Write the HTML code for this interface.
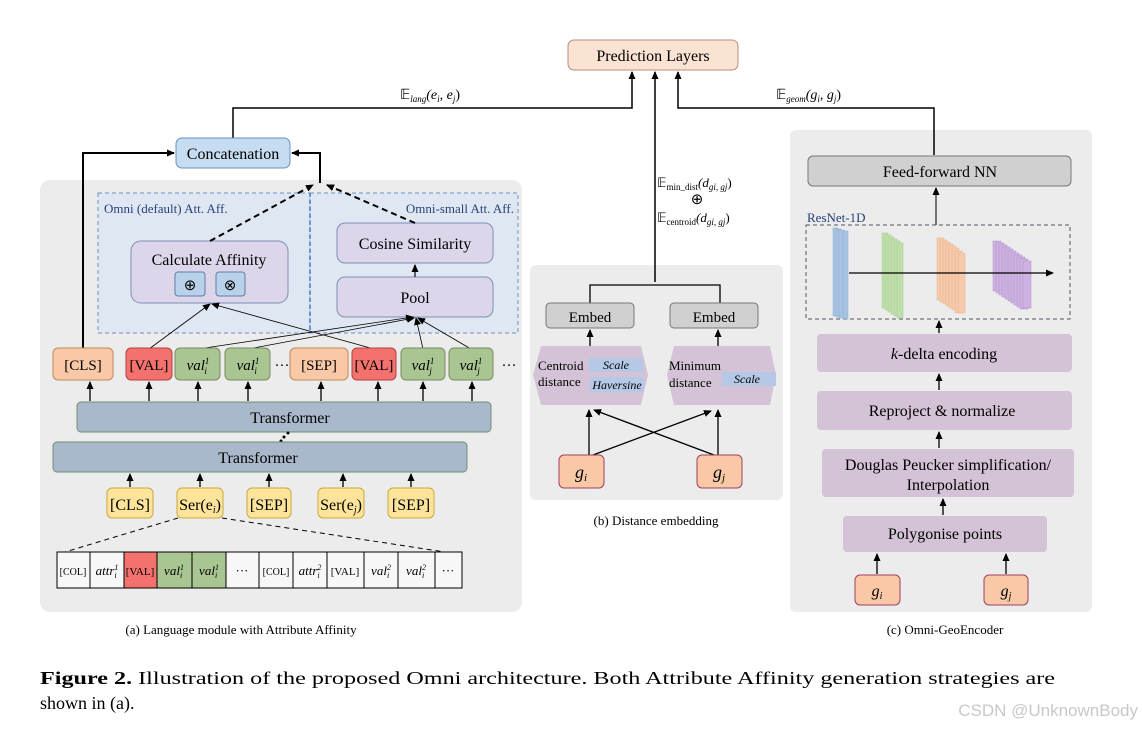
<!DOCTYPE html>
<html><head><meta charset="utf-8"><style>
body{margin:0;background:#fff}
svg{display:block;font-family:"Liberation Serif",serif}
.i{font-style:italic}
</style></head><body>
<svg width="1142" height="729" viewBox="0 0 1142 729" xmlns="http://www.w3.org/2000/svg">
<defs>
<marker id="ar" markerWidth="8" markerHeight="8" refX="7" refY="4" orient="auto" markerUnits="userSpaceOnUse"><path d="M0,0.5 L8,4 L0,7.5z" fill="#000"/></marker>
</defs>
<rect x="40" y="180" width="482" height="432" rx="10" fill="#ececec"/>
<rect x="530" y="265" width="253" height="235" rx="6" fill="#ececec"/>
<rect x="790" y="130" width="302" height="482" rx="6" fill="#ececec"/>

<rect x="568" y="40" width="170" height="30" rx="6" fill="#fbe3d3" stroke="#b98d7a"/>
<text x="653" y="61" font-size="16" text-anchor="middle">Prediction Layers</text>
<path d="M233,138 V108 H632 V72" fill="none" stroke="#000" stroke-width="1.5" marker-end="url(#ar)"/>
<path d="M934,155 V108 H678 V72" fill="none" stroke="#000" stroke-width="1.5" marker-end="url(#ar)"/>
<path d="M655,282 V72" fill="none" stroke="#000" stroke-width="1.5" marker-end="url(#ar)"/>
<text x="400" y="99" font-size="14">𝔼<tspan class="i" font-size="9" dy="3">lang</tspan><tspan dy="-3" class="i">(e</tspan><tspan class="i" font-size="9" dy="3">i</tspan><tspan dy="-3" class="i">, e</tspan><tspan class="i" font-size="9" dy="3">j</tspan><tspan dy="-3">)</tspan></text>
<text x="776" y="99" font-size="14">𝔼<tspan class="i" font-size="9" dy="3">geom</tspan><tspan dy="-3" class="i">(g</tspan><tspan class="i" font-size="9" dy="3">i</tspan><tspan dy="-3" class="i">, g</tspan><tspan class="i" font-size="9" dy="3">j</tspan><tspan dy="-3">)</tspan></text>
<text x="657" y="187" font-size="13">𝔼<tspan font-size="9" dy="3">min_dist</tspan><tspan dy="-3" class="i">(d</tspan><tspan class="i" font-size="9" dy="3">gi, gj</tspan><tspan dy="-3">)</tspan></text>
<text x="697" y="204" font-size="15" text-anchor="middle">⊕</text>
<text x="657" y="222" font-size="13">𝔼<tspan font-size="9" dy="3">centroid</tspan><tspan dy="-3" class="i">(d</tspan><tspan class="i" font-size="9" dy="3">gi, gj</tspan><tspan dy="-3">)</tspan></text>

<rect x="176" y="138" width="114" height="30" rx="6" fill="#c6dcf0" stroke="#6a8fbf"/>
<text x="233" y="159" font-size="16" text-anchor="middle">Concatenation</text>
<path d="M83,348 V153 H174" fill="none" stroke="#000" stroke-width="2" marker-end="url(#ar)"/>
<path d="M320,183 V153 H292" fill="none" stroke="#000" stroke-width="2" marker-end="url(#ar)"/>

<rect x="98" y="193" width="212" height="140" fill="#dfe8f2" stroke="#6b8fbf" stroke-dasharray="4,3"/>
<rect x="310" y="193" width="208" height="140" fill="#dfe8f2" stroke="#6b8fbf" stroke-dasharray="4,3"/>
<line x1="310" y1="193" x2="310" y2="333" stroke="#4a78c0" stroke-width="1.5" stroke-dasharray="4,3"/>
<text x="104" y="213" font-size="13" fill="#27407a">Omni (default) Att. Aff.</text>
<text x="514" y="213" font-size="13" fill="#27407a" text-anchor="end">Omni-small Att. Aff.</text>
<rect x="131" y="241" width="157" height="62" rx="10" fill="#ddd5ea" stroke="#7b8fb5"/>
<text x="209" y="265" font-size="16" text-anchor="middle">Calculate Affinity</text>
<rect x="175" y="272" width="30" height="24" rx="3" fill="#b9d2ea" stroke="#5b7fa8"/>
<rect x="216" y="272" width="29" height="24" rx="3" fill="#b9d2ea" stroke="#5b7fa8"/>
<text x="190" y="290" font-size="15" text-anchor="middle">⊕</text>
<text x="230" y="290" font-size="15" text-anchor="middle">⊗</text>
<rect x="337" y="223" width="156" height="40" rx="8" fill="#ddd5ea" stroke="#7b8fb5"/>
<text x="415" y="249" font-size="16" text-anchor="middle">Cosine Similarity</text>
<rect x="337" y="277" width="156" height="40" rx="8" fill="#ddd5ea" stroke="#7b8fb5"/>
<text x="415" y="303" font-size="16" text-anchor="middle">Pool</text>
<line x1="415" y1="277" x2="415" y2="265" stroke="#333" stroke-width="1.5" marker-end="url(#ar)"/>
<line x1="210" y1="241" x2="313" y2="185" stroke="#000" stroke-width="2" stroke-dasharray="6,4" marker-end="url(#ar)"/>
<line x1="415" y1="223" x2="327" y2="185" stroke="#000" stroke-width="2" stroke-dasharray="6,4" marker-end="url(#ar)"/>
<g stroke="#000" stroke-width="0.8" fill="none">
<line x1="149" y1="349" x2="210" y2="304" marker-end="url(#ar)"/>
<line x1="374" y1="349" x2="212" y2="304" marker-end="url(#ar)"/>
<line x1="198" y1="349" x2="413" y2="317" marker-end="url(#ar)"/>
<line x1="248" y1="349" x2="414" y2="318" marker-end="url(#ar)"/>
<line x1="423" y1="349" x2="416" y2="318" marker-end="url(#ar)"/>
<line x1="471" y1="349" x2="418" y2="318" marker-end="url(#ar)"/>
</g>

<g font-size="15" text-anchor="middle">
<rect x="53" y="348" width="60" height="32" rx="5" fill="#f9c8a6" stroke="#c08a5c"/><text x="83" y="370">[CLS]</text>
<rect x="126" y="348" width="46" height="32" rx="5" fill="#f4726e" stroke="#b04040"/><text x="149" y="370">[VAL]</text>
<rect x="175" y="348" width="45" height="32" rx="5" fill="#a9c592" stroke="#7a8a60"/><text x="198" y="370" class="i">val<tspan font-size="9" dy="-6">1</tspan><tspan font-size="9" dx="-5" dy="10">i</tspan></text>
<rect x="225" y="348" width="45" height="32" rx="5" fill="#a9c592" stroke="#7a8a60"/><text x="248" y="370" class="i">val<tspan font-size="9" dy="-6">1</tspan><tspan font-size="9" dx="-5" dy="10">i</tspan></text>
<text x="282" y="370">···</text>
<rect x="290" y="348" width="58" height="32" rx="5" fill="#f9c8a6" stroke="#c08a5c"/><text x="319" y="370">[SEP]</text>
<rect x="352" y="348" width="44" height="32" rx="5" fill="#f4726e" stroke="#b04040"/><text x="374" y="370">[VAL]</text>
<rect x="401" y="348" width="44" height="32" rx="5" fill="#a9c592" stroke="#7a8a60"/><text x="423" y="370" class="i">val<tspan font-size="9" dy="-6">1</tspan><tspan font-size="9" dx="-5" dy="10">j</tspan></text>
<rect x="449" y="348" width="44" height="32" rx="5" fill="#a9c592" stroke="#7a8a60"/><text x="471" y="370" class="i">val<tspan font-size="9" dy="-6">1</tspan><tspan font-size="9" dx="-5" dy="10">j</tspan></text>
<text x="509" y="370">···</text>
</g>
<g stroke="#000" stroke-width="1.3">
<line x1="90" y1="401" x2="90" y2="382" marker-end="url(#ar)"/>
<line x1="149" y1="401" x2="149" y2="382" marker-end="url(#ar)"/>
<line x1="198" y1="401" x2="198" y2="382" marker-end="url(#ar)"/>
<line x1="248" y1="401" x2="248" y2="382" marker-end="url(#ar)"/>
<line x1="321" y1="401" x2="321" y2="382" marker-end="url(#ar)"/>
<line x1="378" y1="401" x2="378" y2="382" marker-end="url(#ar)"/>
<line x1="423" y1="401" x2="423" y2="382" marker-end="url(#ar)"/>
<line x1="472" y1="401" x2="472" y2="382" marker-end="url(#ar)"/>
</g>
<rect x="77" y="402" width="414" height="30" rx="4" fill="#a9b9cb" stroke="#6e9070"/>
<text x="290" y="423" font-size="16" text-anchor="middle">Transformer</text>
<circle cx="288" cy="433" r="1.5"/><circle cx="284" cy="437" r="1.5"/><circle cx="281" cy="441" r="1.5"/>
<rect x="53" y="442" width="414" height="30" rx="4" fill="#a9b9cb" stroke="#6e9070"/>
<text x="258" y="463" font-size="16" text-anchor="middle">Transformer</text>
<g stroke="#000" stroke-width="1.3">
<line x1="130" y1="487" x2="130" y2="474" marker-end="url(#ar)"/>
<line x1="200" y1="487" x2="200" y2="474" marker-end="url(#ar)"/>
<line x1="269" y1="487" x2="269" y2="474" marker-end="url(#ar)"/>
<line x1="343" y1="487" x2="343" y2="474" marker-end="url(#ar)"/>
<line x1="411" y1="487" x2="411" y2="474" marker-end="url(#ar)"/>
</g>
<g font-size="16" text-anchor="middle">
<rect x="107" y="488" width="46" height="30" rx="5" fill="#fde49a" stroke="#caa940"/><text x="130" y="510">[CLS]</text>
<rect x="177" y="488" width="46" height="30" rx="5" fill="#fde49a" stroke="#caa940"/><text x="200" y="510">Ser(e<tspan class="i" font-size="10" dy="3">i</tspan><tspan dy="-3">)</tspan></text>
<rect x="247" y="488" width="44" height="30" rx="5" fill="#fde49a" stroke="#caa940"/><text x="269" y="510">[SEP]</text>
<rect x="318" y="488" width="46" height="30" rx="5" fill="#fde49a" stroke="#caa940"/><text x="341" y="510">Ser(e<tspan class="i" font-size="10" dy="3">j</tspan><tspan dy="-3">)</tspan></text>
<rect x="388" y="488" width="46" height="30" rx="5" fill="#fde49a" stroke="#caa940"/><text x="411" y="510">[SEP]</text>
</g>
<line x1="178" y1="518" x2="65" y2="552" stroke="#000" stroke-dasharray="5,4"/>
<line x1="222" y1="518" x2="445" y2="552" stroke="#000" stroke-dasharray="5,4"/>
<g stroke="#000" stroke-width="1">
<rect x="57" y="552" width="405" height="36" fill="#f7f7f7"/>
<rect x="124" y="552" width="33" height="36" fill="#f4726e"/>
<rect x="157" y="552" width="69" height="36" fill="#a9c592"/>
<path d="M90,552V588M124,552V588M157,552V588M192,552V588M226,552V588M259,552V588M293,552V588M327,552V588M364,552V588M398,552V588M435,552V588"/>
</g>
<g text-anchor="middle" font-size="13">
<text x="73" y="575" font-size="10">[COL]</text>
<text x="107" y="575" class="i">attr<tspan font-size="8" dy="-5">1</tspan><tspan font-size="8" dx="-4" dy="8">i</tspan></text>
<text x="140" y="575" font-size="11">[VAL]</text>
<text x="174" y="575" class="i">val<tspan font-size="8" dy="-5">1</tspan><tspan font-size="8" dx="-4" dy="8">i</tspan></text>
<text x="209" y="575" class="i">val<tspan font-size="8" dy="-5">1</tspan><tspan font-size="8" dx="-4" dy="8">i</tspan></text>
<text x="242" y="575">···</text>
<text x="276" y="575" font-size="10">[COL]</text>
<text x="310" y="575" class="i">attr<tspan font-size="8" dy="-5">2</tspan><tspan font-size="8" dx="-4" dy="8">i</tspan></text>
<text x="345" y="575" font-size="11">[VAL]</text>
<text x="381" y="575" class="i">val<tspan font-size="8" dy="-5">2</tspan><tspan font-size="8" dx="-4" dy="8">i</tspan></text>
<text x="416" y="575" class="i">val<tspan font-size="8" dy="-5">2</tspan><tspan font-size="8" dx="-4" dy="8">i</tspan></text>
<text x="448" y="575">···</text>
</g>
<text x="241" y="634" font-size="13" text-anchor="middle">(a) Language module with Attribute Affinity</text>

<path d="M590,303 V285 H720 V303" fill="none" stroke="#000" stroke-width="1.3"/>
<rect x="546" y="303" width="88" height="25" rx="4" fill="#d0d0d0" stroke="#777"/>
<text x="590" y="322" font-size="15" text-anchor="middle">Embed</text>
<rect x="670" y="303" width="88" height="25" rx="4" fill="#d0d0d0" stroke="#777"/>
<text x="714" y="322" font-size="15" text-anchor="middle">Embed</text>
<line x1="590" y1="346" x2="590" y2="330" stroke="#000" stroke-width="1.3" marker-end="url(#ar)"/>
<line x1="718" y1="346" x2="718" y2="330" stroke="#000" stroke-width="1.3" marker-end="url(#ar)"/>
<path d="M541,346 H641 L648,375 L641,405 H541 L533,375z" fill="#d4c3d6"/>
<path d="M674,346 H770 L776,375 L770,405 H674 L667,375z" fill="#d4c3d6"/>
<rect x="589" y="358" width="54" height="14" fill="#b5c8e6"/>
<rect x="590" y="377" width="54" height="15" fill="#b5c8e6"/>
<rect x="722" y="372" width="54" height="14" fill="#b5c8e6"/>
<g font-size="13">
<text x="538" y="370">Centroid</text><text x="538" y="386">distance</text>
<text x="616" y="369" class="i" font-size="12" text-anchor="middle">Scale</text>
<text x="617" y="389" class="i" font-size="12" text-anchor="middle">Haversine</text>
<text x="669" y="370">Minimum</text><text x="669" y="387">distance</text>
<text x="747" y="383" class="i" font-size="12" text-anchor="middle">Scale</text>
</g>
<g stroke="#000" stroke-width="1.3">
<line x1="589" y1="455" x2="589" y2="410" marker-end="url(#ar)"/>
<line x1="593" y1="455" x2="711" y2="411" marker-end="url(#ar)"/>
<line x1="718" y1="455" x2="718" y2="410" marker-end="url(#ar)"/>
<line x1="714" y1="455" x2="594" y2="410" marker-end="url(#ar)"/>
</g>
<rect x="559" y="455" width="45" height="33" rx="5" fill="#f9c8a6" stroke="#a04060"/>
<text x="581" y="478" font-size="18" class="i" text-anchor="middle">g<tspan font-size="11" dy="3">i</tspan></text>
<rect x="697" y="455" width="45" height="33" rx="5" fill="#f9c8a6" stroke="#a04060"/>
<text x="719" y="478" font-size="18" class="i" text-anchor="middle">g<tspan font-size="11" dy="3">j</tspan></text>
<text x="656" y="525" font-size="13" text-anchor="middle">(b) Distance embedding</text>

<rect x="808" y="156" width="263" height="30" rx="5" fill="#d0d0d0" stroke="#777"/>
<text x="940" y="177" font-size="16" text-anchor="middle">Feed-forward NN</text>
<line x1="936" y1="225" x2="936" y2="188" stroke="#333" stroke-width="1.3" marker-end="url(#ar)"/>
<text x="807" y="222" font-size="13" fill="#27407a">ResNet-1D</text>
<rect x="806" y="225" width="264" height="94" fill="none" stroke="#556" stroke-dasharray="4,3"/>
<g opacity="0.85">
<rect x="833" y="228" width="5" height="88" fill="#9cbde0" stroke="#7aa0cc" stroke-width="0.5"/>
<rect x="836" y="229" width="5" height="88" fill="#9cbde0" stroke="#7aa0cc" stroke-width="0.5"/>
<rect x="839" y="230" width="5" height="88" fill="#9cbde0" stroke="#7aa0cc" stroke-width="0.5"/>
<rect x="843" y="231" width="5" height="88" fill="#9cbde0" stroke="#7aa0cc" stroke-width="0.5"/>
</g>
<g fill="#b8dca0" stroke="#9cc880" stroke-width="0.5" opacity="0.85">
<rect x="882" y="233" width="6" height="75"/><rect x="885" y="235" width="6" height="75"/><rect x="888" y="237" width="6" height="75"/><rect x="891" y="239" width="6" height="75"/><rect x="894" y="241" width="6" height="75"/><rect x="897" y="243" width="6" height="75"/>
</g>
<g fill="#f8c6a0" stroke="#e8a880" stroke-width="0.5" opacity="0.85">
<rect x="937" y="238" width="7" height="62"/><rect x="940" y="240" width="7" height="62"/><rect x="943" y="242" width="7" height="62"/><rect x="946" y="244" width="7" height="62"/><rect x="949" y="246" width="7" height="62"/><rect x="952" y="248" width="7" height="62"/><rect x="955" y="251" width="7" height="62"/><rect x="958" y="253" width="7" height="60"/>
</g>
<g fill="#c9a8e0" stroke="#a886c8" stroke-width="0.5" opacity="0.85">
<rect x="993" y="241" width="8" height="50"/><rect x="996" y="243" width="8" height="50"/><rect x="999" y="245" width="8" height="50"/><rect x="1002" y="247" width="8" height="50"/><rect x="1005" y="249" width="8" height="50"/><rect x="1008" y="251" width="8" height="50"/><rect x="1011" y="253" width="8" height="50"/><rect x="1014" y="255" width="8" height="50"/><rect x="1017" y="257" width="8" height="50"/><rect x="1020" y="259" width="8" height="50"/><rect x="1023" y="261" width="8" height="47"/>
</g>
<line x1="849" y1="273" x2="1053" y2="273" stroke="#000" stroke-width="1.2" marker-end="url(#ar)"/>
<line x1="939" y1="333" x2="939" y2="321" stroke="#000" stroke-width="1.3" marker-end="url(#ar)"/>
<rect x="817" y="334" width="255" height="38" rx="4" fill="#d4c3d6"/>
<text x="944" y="359" font-size="16" text-anchor="middle"><tspan class="i">k</tspan>-delta encoding</text>
<line x1="939" y1="390" x2="939" y2="374" stroke="#000" stroke-width="1.3" marker-end="url(#ar)"/>
<rect x="817" y="391" width="255" height="39" rx="4" fill="#d4c3d6"/>
<text x="942" y="416" font-size="16" text-anchor="middle">Reproject &amp; normalize</text>
<line x1="939" y1="448" x2="939" y2="432" stroke="#000" stroke-width="1.3" marker-end="url(#ar)"/>
<rect x="822" y="449" width="252" height="48" rx="4" fill="#d4c3d6"/>
<text x="948" y="470" font-size="16" text-anchor="middle">Douglas Peucker simplification/</text>
<text x="948" y="490" font-size="16" text-anchor="middle">Interpolation</text>
<line x1="943" y1="515" x2="943" y2="499" stroke="#000" stroke-width="1.3" marker-end="url(#ar)"/>
<rect x="843" y="516" width="204" height="36" rx="4" fill="#d4c3d6"/>
<text x="945" y="539" font-size="16" text-anchor="middle">Polygonise points</text>
<line x1="877" y1="574" x2="877" y2="554" stroke="#000" stroke-width="1.3" marker-end="url(#ar)"/>
<line x1="1006" y1="574" x2="1006" y2="554" stroke="#000" stroke-width="1.3" marker-end="url(#ar)"/>
<rect x="855" y="575" width="45" height="30" rx="5" fill="#f9c8a6" stroke="#a04060"/>
<text x="877" y="596" font-size="16" class="i" text-anchor="middle">g<tspan font-size="10" dy="3">i</tspan></text>
<rect x="984" y="575" width="44" height="30" rx="5" fill="#f9c8a6" stroke="#a04060"/>
<text x="1006" y="596" font-size="16" class="i" text-anchor="middle">g<tspan font-size="10" dy="3">j</tspan></text>
<text x="945" y="634" font-size="13" text-anchor="middle">(c) Omni-GeoEncoder</text>

<text x="40" y="684" font-size="18" textLength="1015" lengthAdjust="spacingAndGlyphs"><tspan font-weight="bold">Figure 2.</tspan>  Illustration of the proposed Omni architecture. Both Attribute Affinity generation strategies are</text>
<text x="40" y="709" font-size="18">shown in (a).</text>
<text x="1138" y="716" font-size="17" fill="#c8c8c8" text-anchor="end" font-family="Liberation Sans, sans-serif">CSDN @UnknownBody</text>
</svg>
</body></html>
